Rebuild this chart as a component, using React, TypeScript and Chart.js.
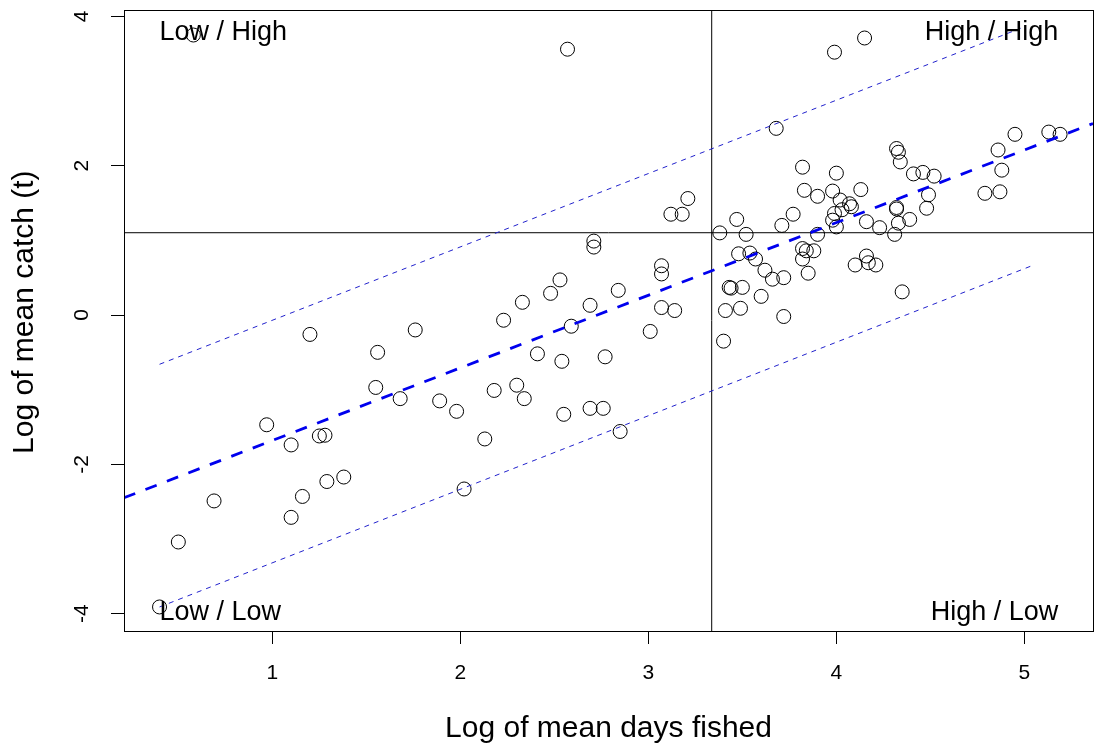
import React, { useEffect, useRef } from "react";
import { Chart, registerables } from "chart.js";

Chart.register(...registerables);

// ---- Data ----
const daysFished = [
  1.20, 1.56, 1.55, 0.97, 1.10, 1.25, 1.28, 0.69, 1.16, 1.29,
  1.38, 1.10, 0.50, 0.40, 0.58, 2.71, 2.71, 2.53, 2.48, 2.33,
  2.23, 1.76, 2.84, 2.69, 2.59, 2.41, 2.54, 2.77, 1.68, 1.89,
  1.98, 2.18, 2.30, 2.34, 2.55, 2.69, 2.76, 2.13, 2.85, 2.02,
  3.21, 3.12, 3.18, 3.38, 3.47, 3.52, 3.71, 3.77, 3.83, 3.90,
  3.48, 3.54, 3.57, 3.62, 3.66, 3.72, 3.82, 3.84, 3.88, 3.82,
  3.85, 3.07, 3.07, 3.43, 3.44, 3.50, 3.60, 3.07, 3.14, 3.41,
  3.49, 3.72, 3.01, 3.40, 4.32, 4.33, 4.34, 3.82, 4.00, 4.41,
  4.46, 4.52, 4.13, 3.98, 4.02, 4.07, 4.08, 4.03, 3.99, 3.98,
  4.00, 4.49, 4.48, 4.32, 4.32, 4.39, 4.33, 4.31, 4.16, 4.23,
  3.90, 4.10, 4.16, 4.17, 4.21, 4.35, 4.95, 5.13, 5.19, 4.86,
  4.88, 4.79, 4.87, 2.57, 3.99, 4.15, 3.68,
];
const meanCatch = [
  -0.26, -0.50, -0.97, -1.47, -1.74, -1.62, -1.61, -2.49, -2.43, -2.23,
  -2.17, -2.71, -3.04, -3.91, 3.75, 0.99, 0.91, 0.47, 0.29, 0.17,
  -0.07, -0.20, 0.33, 0.13, -0.15, -0.52, -0.62, -0.56, -1.12, -1.15,
  -1.29, -1.01, -0.94, -1.12, -1.33, -1.25, -1.25, -1.66, -1.56, -2.33,
  1.56, 1.35, 1.35, 1.10, 1.28, 1.08, 1.20, 1.35, 1.67, 1.59,
  0.82, 0.83, 0.75, 0.60, 0.48, 0.50, 0.89, 0.86, 0.86, 0.75,
  0.56, 0.66, 0.55, 0.37, 0.36, 0.37, 0.25, 0.10, 0.06, 0.06,
  0.09, -0.02, -0.22, -0.35, 2.23, 2.18, 2.05, 1.98, 1.90, 1.89,
  1.91, 1.86, 1.68, 1.66, 1.54, 1.49, 1.45, 1.41, 1.36, 1.27,
  1.18, 1.61, 1.43, 1.44, 1.42, 1.28, 1.23, 1.08, 1.25, 1.17,
  1.08, 0.67, 0.79, 0.70, 0.67, 0.31, 2.42, 2.45, 2.42, 2.21,
  1.94, 1.63, 1.65, 3.56, 3.52, 3.71, 2.50,
];

const xTicks = [1, 2, 3, 4, 5];
const xTickLabels = ["1", "2", "3", "4", "5"];
const yTicks = [-4, -2, 0, 2, 4];
const yTickLabels = ["-4", "-2", "0", "2", "4"];
const xRange = [0.211, 5.365];
const yRange = [-4.232, 4.085];

// fitted line and interval lines (end points)
const fitX = [0.211, 5.365];
const fitY = [-2.448, 2.565];
const upperX = [0.40, 4.98];
const upperY = [-0.66, 3.84];
const lowerX = [0.40, 5.05];
const lowerY = [-3.91, 0.67];

// quadrant split values
const splitDays = 3.337;
const splitCatch = 1.102;

const quadrantLabels = ["Low / High", "High / High", "Low / Low", "High / Low"];
const quadrantLabelX = [0.40, 5.18, 0.40, 5.18];
const quadrantLabelY = [3.68, 3.68, -4.09, -4.09];
const quadrantAlign: CanvasTextAlign[] = ["left", "right", "left", "right"];

const xTitle = "Log of mean days fished";
const yTitle = "\u00A0\u00A0Log of mean catch (t)";

const FONT = '"Liberation Sans", Arial, Helvetica, sans-serif';

const pairs = (xs: number[], ys: number[]) => xs.map((x, i) => ({ x, y: ys[i] }));

const framePlugin = {
  id: "frameAndLabels",
  afterDatasetsDraw(chart: any) {
    const { ctx, chartArea: a, scales } = chart;
    ctx.save();
    ctx.strokeStyle = "#000";
    ctx.lineWidth = 1;
    ctx.setLineDash([]);
    ctx.strokeRect(a.left + 0.5, a.top + 0.5, a.right - a.left, a.bottom - a.top);
    ctx.fillStyle = "#000";
    ctx.font = `27px ${FONT}`;
    ctx.textBaseline = "alphabetic";
    quadrantLabels.forEach((t, i) => {
      ctx.textAlign = quadrantAlign[i];
      ctx.fillText(
        t,
        scales.x.getPixelForValue(quadrantLabelX[i]),
        scales.y.getPixelForValue(quadrantLabelY[i])
      );
    });
    ctx.restore();
  },
};

export default function App() {
  const ref = useRef<HTMLCanvasElement>(null);

  useEffect(() => {
    if (!ref.current) return;
    Chart.defaults.font.family = FONT;
    const chart = new Chart(ref.current, {
      type: "scatter",
      data: {
        datasets: [
          {
            label: "fit",
            data: pairs(fitX, fitY),
            showLine: true,
            borderColor: "#0000ee",
            borderWidth: 2.8,
            borderDash: [12, 11],
            pointRadius: 0,
            order: 0,
          },
          {
            label: "upper",
            data: pairs(upperX, upperY),
            showLine: true,
            borderColor: "#2222cc",
            borderWidth: 1,
            borderDash: [5, 5],
            pointRadius: 0,
            order: 0,
          },
          {
            label: "lower",
            data: pairs(lowerX, lowerY),
            showLine: true,
            borderColor: "#2222cc",
            borderWidth: 1,
            borderDash: [5, 5],
            pointRadius: 0,
            order: 0,
          },
          {
            label: "vsplit",
            data: pairs([splitDays, splitDays], yRange),
            showLine: true,
            borderColor: "#000",
            borderWidth: 1,
            pointRadius: 0,
            order: 0,
          },
          {
            label: "hsplit",
            data: pairs(xRange, [splitCatch, splitCatch]),
            showLine: true,
            borderColor: "#000",
            borderWidth: 1,
            pointRadius: 0,
            order: 0,
          },
          {
            label: "fisheries",
            data: pairs(daysFished, meanCatch),
            pointStyle: "circle",
            pointRadius: 7,
            borderWidth: 1,
            borderColor: "#000",
            backgroundColor: "rgba(0,0,0,0)",
            order: 1,
          },
        ],
      },
      options: {
        animation: false,
        responsive: true,
        maintainAspectRatio: false,
        events: [],
        layout: { autoPadding: false, padding: { top: 10, right: 5, left: 0, bottom: 0 } },
        plugins: { legend: { display: false }, tooltip: { enabled: false } },
        scales: {
          x: {
            type: "linear",
            min: xRange[0],
            max: xRange[1],
            afterBuildTicks: (s: any) => {
              s.ticks = xTicks.map((v) => ({ value: v }));
            },
            afterFit: (s: any) => {
              s.height = 115;
              s.paddingLeft = 0;
              s.paddingRight = 0;
            },
            grid: {
              drawOnChartArea: false,
              drawTicks: true,
              tickLength: 13,
              color: "#000",
              lineWidth: 1,
            },
            border: { display: false },
            ticks: {
              padding: 17,
              color: "#000",
              font: { size: 21 },
              callback: (v: any) => xTickLabels[xTicks.indexOf(Number(v))] ?? "",
            },
            title: {
              display: true,
              text: xTitle,
              color: "#000",
              font: { size: 30, lineHeight: 1 },
              padding: { top: 0, bottom: 2 },
            },
          },
          y: {
            type: "linear",
            min: yRange[0],
            max: yRange[1],
            afterBuildTicks: (s: any) => {
              s.ticks = yTicks.map((v) => ({ value: v }));
            },
            afterFit: (s: any) => {
              s.width = 124;
              s.paddingTop = 0;
              s.paddingBottom = 0;
            },
            grid: {
              drawOnChartArea: false,
              drawTicks: true,
              tickLength: 13,
              color: "#000",
              lineWidth: 1,
            },
            border: { display: false },
            ticks: {
              padding: 19,
              color: "#000",
              minRotation: 90,
              maxRotation: 90,
              crossAlign: "center",
              font: { size: 21 },
              callback: (v: any) => yTickLabels[yTicks.indexOf(Number(v))] ?? "",
            },
            title: {
              display: true,
              text: yTitle,
              color: "#000",
              font: { size: 30, lineHeight: 1 },
              padding: { top: 10, bottom: 0 },
            },
          },
        },
      },
      plugins: [framePlugin],
    } as any);
    return () => chart.destroy();
  }, []);

  return (
    <div
      style={{
        position: "fixed",
        left: 0,
        top: 0,
        width: 1098,
        height: 746,
        background: "#fff",
      }}
    >
      <canvas ref={ref} />
    </div>
  );
}
